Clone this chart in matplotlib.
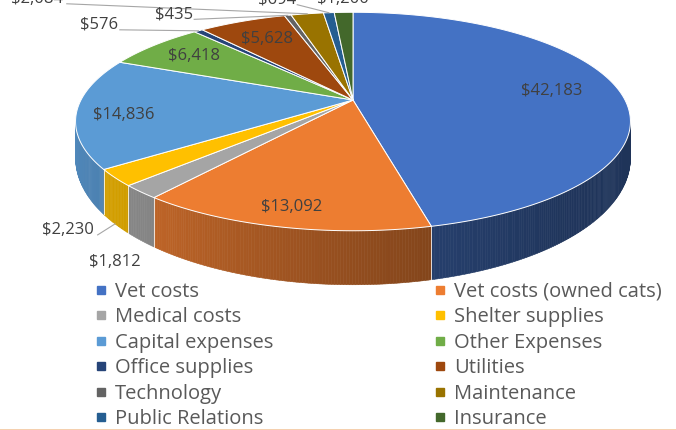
import numpy as np
import matplotlib
matplotlib.use("Agg")
import matplotlib.pyplot as plt
from matplotlib.patches import Polygon
from matplotlib.collections import PolyCollection
from matplotlib.lines import Line2D
from matplotlib.colors import to_rgb

categories = ["Vet costs", "Vet costs (owned cats)", "Medical costs", "Shelter supplies",
              "Capital expenses", "Other Expenses", "Office supplies", "Utilities",
              "Technology", "Maintenance", "Public Relations", "Insurance"]
values = [42183, 13092, 1812, 2230, 14836, 6418, 576, 5628, 435, 2084, 694, 1200]
colors = ["#4472C4", "#ED7D31", "#A5A5A5", "#FFC000", "#5B9BD5", "#70AD47",
          "#264478", "#9E480E", "#636363", "#997300", "#255E91", "#43682B"]

FONT = ["Open Sans", "DejaVu Sans"]
LABEL_C = "#404040"
LEGEND_C = "#595959"

# projected disc geometry (pixel space)
CX, CY = 353, 100
A, B, K = 272, 105, 0.197


def top_pt(theta, r=1.0):
    t = np.radians(theta)
    u = r * np.sin(t)
    v = r * np.cos(t)
    s = 1.0 / (1.0 + K * v)
    return CX + A * u * s, CY - B * v * s


def wall_depth(theta):
    return 32 - 22 * np.cos(np.radians(theta))


def shade(theta):
    return np.interp(theta, [101, 140, 166, 218, 259], [0.45, 0.47, 0.55, 0.80, 0.88])


fig = plt.figure(figsize=(6.76, 4.30), dpi=100)
ax = fig.add_axes([0, 0, 1, 1])
ax.set_xlim(0, 676)
ax.set_ylim(430, 0)
ax.axis("off")

total = float(sum(values))
edges = np.concatenate([[0], np.cumsum(values)]) / total * 360.0
mids = (edges[:-1] + edges[1:]) / 2

# side walls (front part only)
vis_lo = np.degrees(np.arccos(-K))
vis_hi = 360 - vis_lo
for i, col in enumerate(colors):
    lo = max(edges[i], vis_lo)
    hi = min(edges[i + 1], vis_hi)
    if lo >= hi:
        continue
    th = np.linspace(lo, hi, max(2, int((hi - lo) / 0.5) + 1))
    xs, ys = top_pt(th)
    yb = ys + wall_depth(th)
    quads, fcs = [], []
    base = np.array(to_rgb(col))
    for j in range(len(th) - 1):
        quads.append([(xs[j], ys[j]), (xs[j + 1], ys[j + 1]),
                      (xs[j + 1], yb[j + 1]), (xs[j], yb[j])])
        fcs.append(np.clip(base * shade((th[j] + th[j + 1]) / 2), 0, 1))
    ax.add_collection(PolyCollection(quads, facecolors=fcs, edgecolors=fcs, linewidths=0.4))

# light seams between wall segments
for e in edges[1:-1]:
    if vis_lo < e < vis_hi:
        x, y = top_pt(e)
        ax.plot([x, x], [y, y + wall_depth(e)], color="white", lw=0.7, alpha=0.8)

# top faces
for i, col in enumerate(colors):
    th = np.linspace(edges[i], edges[i + 1], max(3, int((edges[i + 1] - edges[i]) / 0.5) + 2))
    xs, ys = top_pt(th)
    pts = [(CX, CY)] + list(zip(xs, ys))
    ax.add_patch(Polygon(pts, closed=True, facecolor=col, edgecolor="white",
                         lw=0.7, joinstyle="round"))

# labels inside slices: (radius fraction, angle nudge)
inner = {"Vet costs": (0.75, 0), "Vet costs (owned cats)": (0.87, 0),
         "Capital expenses": (0.83, -3), "Other Expenses": (0.78, 0),
         "Utilities": (0.75, 0)}
# labels outside: (anchor on top or bottom rim, dx, dy, leader line)
outer = {"Medical costs": ("bottom", -26, 22, False),
         "Shelter supplies": ("bottom", -47, 6, True),
         "Office supplies": ("top", -99, -6, True),
         "Technology": ("top", -114, -1, True),
         "Maintenance": ("top", -270, -15, True),
         "Public Relations": ("top", -52, -13, True),
         "Insurance": ("top", -1, -13, False)}

for i, cat in enumerate(categories):
    txt = f"${values[i]:,}"
    if cat in inner:
        r, dth = inner[cat]
        x, y = top_pt(mids[i] + dth, r)
        ax.text(x, y, txt, ha="center", va="center", fontsize=12,
                color=LABEL_C, family=FONT)
    else:
        where, dx, dy, leader = outer[cat]
        ax_, ay_ = top_pt(mids[i])
        if where == "bottom":
            ay_ = ay_ + wall_depth(mids[i])
        tx, ty = ax_ + dx, ay_ + dy
        ax.text(tx, ty, txt, ha="center", va="center", fontsize=12,
                color=LABEL_C, family=FONT, clip_on=False)
        if leader:
            sx = tx + 4.6 * len(txt) + 2
            ax.plot([sx, ax_], [ty + 5, ay_], color="#a6a6a6", lw=0.8)

# legend, two columns filled row by row
handles = [Line2D([], [], marker="s", linestyle="none", markersize=5.5,
                  markerfacecolor=c, markeredgecolor=c) for c in colors]
legend_kw = dict(frameon=False, prop={"family": FONT, "size": 14.5},
                 labelcolor=LEGEND_C, handlelength=0.6, handletextpad=0.4,
                 borderpad=0, borderaxespad=0, labelspacing=0.27,
                 loc="upper left", bbox_transform=ax.transData)
leg1 = ax.legend(handles[0::2], categories[0::2], bbox_to_anchor=(95, 282), **legend_kw)
ax.add_artist(leg1)
ax.legend(handles[1::2], categories[1::2], bbox_to_anchor=(434, 282), **legend_kw)

ax.axhline(429.5, color="#f4c7a0", lw=1.2)

fig.savefig("out.png", dpi=100)
